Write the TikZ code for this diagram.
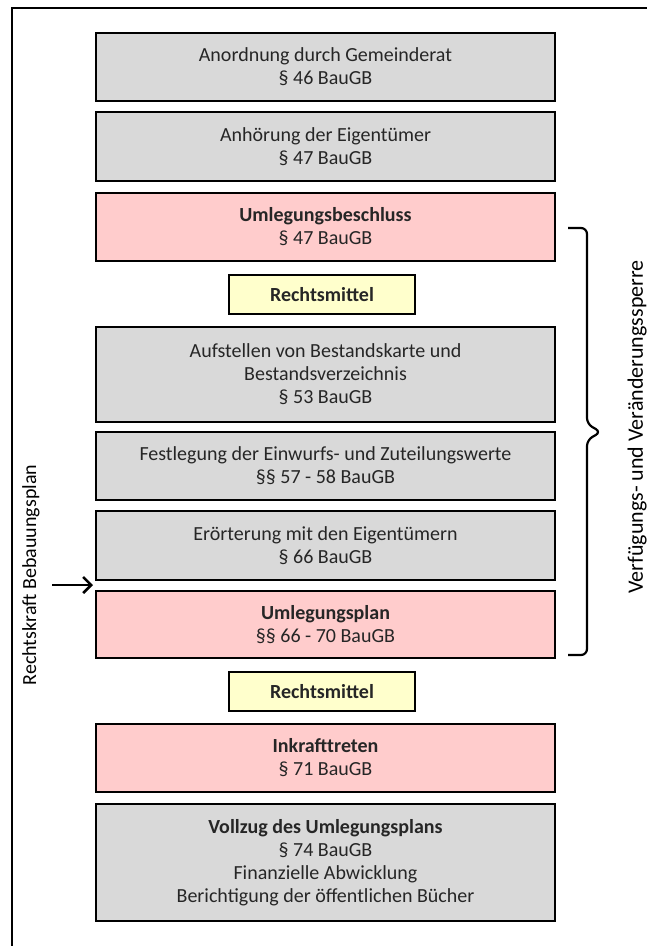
\documentclass[tikz,border=0pt]{standalone}
\usepackage{fontspec}
\setmainfont{Carlito}
\usetikzlibrary{arrows.meta}
\definecolor{stepgray}{HTML}{D9D9D9}
\definecolor{steprose}{HTML}{FFCCCC}
\definecolor{stepyellow}{HTML}{FFFFCC}

\begin{document}
\begin{tikzpicture}[x=1pt,y=-1pt,
    font=\fontsize{20}{23}\selectfont,
    stepbox/.style={draw,line width=2.2pt,fill=stepgray,text=black!85,
        align=center,minimum width=459pt,inner sep=0pt},
    legalbox/.style={stepbox,fill=steprose},
    remedybox/.style={stepbox,fill=stepyellow,minimum width=186pt,minimum height=39pt,font=\fontsize{20}{23}\selectfont\bfseries}]
    \useasboundingbox (0,0) rectangle (647,946);
    \draw[line width=2.4pt](12,946)--(12,8)--(647,8);
    \node[stepbox,minimum height=68pt] (anordnung) at (325.5,67)
    {Anordnung durch Gemeinderat\\ § 46 BauGB};
    \node[stepbox,minimum height=69pt] (anhoerung) at (325.5,146.5)
    {Anhörung der Eigentümer\\ § 47 BauGB};
    \node[legalbox,minimum height=68pt] (beschluss) at (325.5,227)
    {\textbf{Umlegungsbeschluss}\\ § 47 BauGB};
    \node[remedybox] (mittel1) at (322,294.5) {Rechtsmittel};
    \node[stepbox,minimum height=95pt] (bestand) at (325.5,374.5)
    {Aufstellen von Bestandskarte und\\ Bestandsverzeichnis\\ § 53 BauGB};
    \node[stepbox,minimum height=68pt] (werte) at (325.5,466)
    {Festlegung der Einwurfs- und Zuteilungswerte\\ §§ 57 - 58 BauGB};
    \node[stepbox,minimum height=69pt] (eroerterung) at (325.5,545.5)
    {Erörterung mit den Eigentümern\\ § 66 BauGB};
    \node[legalbox,minimum height=67pt] (plan) at (325.5,624.5)
    {\textbf{Umlegungsplan}\\ §§ 66 - 70 BauGB};
    \node[remedybox] (mittel2) at (322,691.5) {Rechtsmittel};
    \node[legalbox,minimum height=68pt] (inkraft) at (325.5,758)
    {\textbf{Inkrafttreten}\\ § 71 BauGB};
    \node[stepbox,minimum height=117pt] (vollzug) at (325.5,862.5)
    {\textbf{Vollzug des Umlegungsplans}\\ § 74 BauGB\\ Finanzielle Abwicklung\\
    Berichtigung der öffentlichen Bücher};
    % brace for the freeze
    \draw[line width=2.2pt,rounded corners=6pt](568,228)--(587,228)--(587,424)
    --(601,432)--(587,440)--(587,655)--(568,655);
    \node[rotate=90,font=\fontsize{22}{26}\selectfont] (sperre) at (637,427)
    {Verfügungs- und Veränderungssperre};
    % legal force of the development plan
    \node[rotate=90] (rechtskraft) at (31,575) {Rechtskraft Bebauungsplan};
    \coordinate (rkfrom) at (52,585);
    \coordinate (rkto) at (93,585);
    \draw[line width=2.6pt,-{Straight Barb[length=8pt,width=16pt]}](rkfrom)--(rkto);
\end{tikzpicture}
\end{document}
